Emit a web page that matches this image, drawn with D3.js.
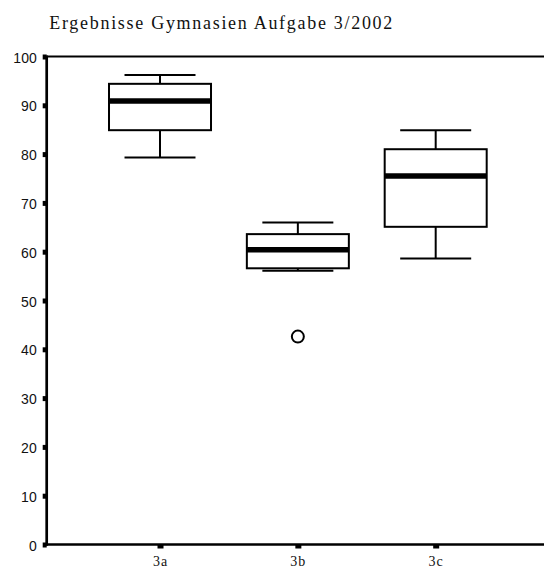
<!DOCTYPE html>
<html>
<head>
<meta charset="utf-8">
<script src="https://cdn.jsdelivr.net/npm/d3@7"></script>
<style>
  html, body { margin: 0; padding: 0; background: #fff; }
  svg { display: block; }
</style>
</head>
<body>
<script>
// ---- data ----
const categories = ["3a", "3b", "3c"];
const whiskerLow  = [79.3, 56.1, 58.6];
const q1          = [84.9, 56.6, 65.1];
const median      = [90.9, 60.4, 75.5];
const q3          = [94.4, 63.6, 81.0];
const whiskerHigh = [96.2, 66.0, 84.9];
const outliers    = [{cat: "3b", value: 42.6}];
const yTicks      = [0, 10, 20, 30, 40, 50, 60, 70, 80, 90, 100];
const chartTitle  = "Ergebnisse Gymnasien Aufgabe 3/2002";

// ---- layout ----
const W = 544, H = 570;
const plotLeft = 46.7, plotTop = 56.5, plotBottom = 544.5, plotRightEnd = 549;

const svg = d3.select("body").append("svg").attr("width", W).attr("height", H);

const y = d3.scaleLinear().domain([0, 100]).range([plotBottom, plotTop]);
const x = d3.scalePoint().domain(categories).range([plotLeft, plotRightEnd]).padding(0.822);
const step = x.step();
const boxW = step * 0.74;
const capW = step * 0.515;

// title
svg.append("text")
  .attr("x", 49.3).attr("y", 28.5)
  .attr("font-family", "'Liberation Serif', 'Times New Roman', serif")
  .attr("font-size", 18)
  .attr("textLength", 343)
  .attr("lengthAdjust", "spacing")
  .attr("fill", "#111")
  .text(chartTitle);

// top border
svg.append("line")
  .attr("x1", plotLeft).attr("x2", W)
  .attr("y1", y(100)).attr("y2", y(100))
  .attr("stroke", "#000").attr("stroke-width", 2);

// y axis
const yAxis = d3.axisLeft(y).tickValues(yTicks).tickSize(0).tickPadding(10);
const gy = svg.append("g").attr("transform", `translate(${plotLeft},0)`).call(yAxis);
gy.select(".domain").remove();
gy.selectAll("text")
  .attr("font-family", "'Liberation Sans', Arial, sans-serif")
  .attr("font-size", 14)
  .attr("fill", "#111")
  .attr("dy", "0.4em");
gy.selectAll(".tick").append("rect")
  .attr("x", -4).attr("y", -2.5).attr("width", 4).attr("height", 5)
  .attr("fill", "#000");

// x axis
const xAxis = d3.axisBottom(x).tickSize(0).tickPadding(12);
const gx = svg.append("g").attr("transform", `translate(0,${plotBottom})`).call(xAxis);
gx.select(".domain").remove();
gx.selectAll("text")
  .attr("font-family", "'Liberation Serif', 'Times New Roman', serif")
  .attr("font-size", 14)
  .attr("letter-spacing", "1px")
  .attr("fill", "#111");
gx.selectAll(".tick").append("rect")
  .attr("x", -3).attr("y", 0).attr("width", 6).attr("height", 4)
  .attr("fill", "#000");

// axis lines
svg.append("line")
  .attr("x1", plotLeft).attr("x2", plotLeft)
  .attr("y1", y(100) - 1).attr("y2", plotBottom + 1.3)
  .attr("stroke", "#000").attr("stroke-width", 2.7);
svg.append("line")
  .attr("x1", plotLeft - 1.3).attr("x2", W)
  .attr("y1", plotBottom).attr("y2", plotBottom)
  .attr("stroke", "#000").attr("stroke-width", 2.5);

// boxes
const data = categories.map((c, i) => ({
  cat: c, lo: whiskerLow[i], q1: q1[i], med: median[i], q3: q3[i], hi: whiskerHigh[i]
}));

const g = svg.append("g").attr("class", "boxes");
const box = g.selectAll("g.box").data(data).join("g").attr("class", "box");

// whisker stems
box.append("line")
  .attr("x1", d => x(d.cat)).attr("x2", d => x(d.cat))
  .attr("y1", d => y(d.hi)).attr("y2", d => y(d.q3))
  .attr("stroke", "#000").attr("stroke-width", 2);
box.append("line")
  .attr("x1", d => x(d.cat)).attr("x2", d => x(d.cat))
  .attr("y1", d => y(d.q1)).attr("y2", d => y(d.lo))
  .attr("stroke", "#000").attr("stroke-width", 2);
// caps
box.append("line")
  .attr("x1", d => x(d.cat) - capW / 2).attr("x2", d => x(d.cat) + capW / 2)
  .attr("y1", d => y(d.hi)).attr("y2", d => y(d.hi))
  .attr("stroke", "#000").attr("stroke-width", 2);
box.append("line")
  .attr("x1", d => x(d.cat) - capW / 2).attr("x2", d => x(d.cat) + capW / 2)
  .attr("y1", d => y(d.lo)).attr("y2", d => y(d.lo))
  .attr("stroke", "#000").attr("stroke-width", 2);
// box
box.append("rect")
  .attr("x", d => x(d.cat) - boxW / 2)
  .attr("width", boxW)
  .attr("y", d => y(d.q3))
  .attr("height", d => y(d.q1) - y(d.q3))
  .attr("fill", "#fff").attr("stroke", "#000").attr("stroke-width", 2);
// median
box.append("line")
  .attr("x1", d => x(d.cat) - boxW / 2).attr("x2", d => x(d.cat) + boxW / 2)
  .attr("y1", d => y(d.med)).attr("y2", d => y(d.med))
  .attr("stroke", "#000").attr("stroke-width", 5.5);

// outliers
g.selectAll("circle.out").data(outliers).join("circle")
  .attr("class", "out")
  .attr("cx", d => x(d.cat)).attr("cy", d => y(d.value))
  .attr("r", 6)
  .attr("fill", "#fff").attr("stroke", "#000").attr("stroke-width", 2);
</script>
</body>
</html>
